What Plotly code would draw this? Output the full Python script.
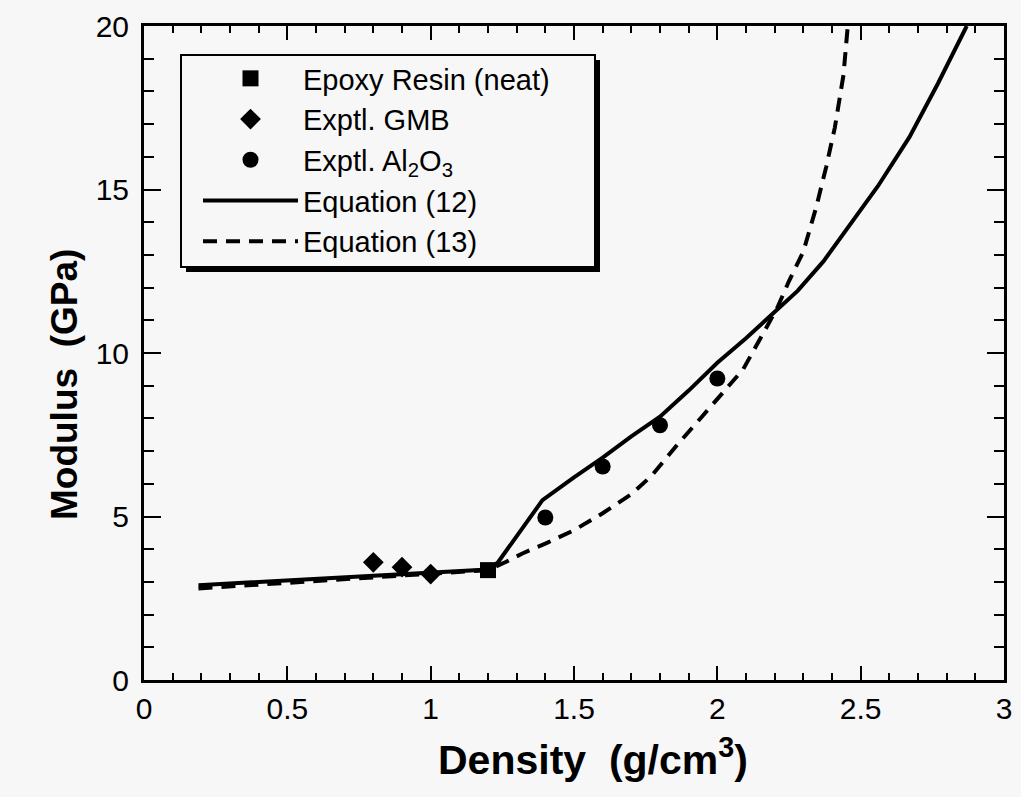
import plotly.graph_objects as go

# values
epoxy_x = [1.2]
epoxy_y = [3.36]

gmb_x = [0.8, 0.9, 1.0]
gmb_y = [3.6, 3.45, 3.24]

al2o3_x = [1.4, 1.6, 1.8, 2.0]
al2o3_y = [4.97, 6.53, 7.79, 9.22]

eq12_x = [0.19, 0.5, 0.8, 1.0, 1.2, 1.235, 1.3, 1.39, 1.5, 1.6, 1.7, 1.8,
          1.9, 2.0, 2.1, 2.2, 2.28, 2.37, 2.45, 2.56, 2.67, 2.77, 2.87]
eq12_y = [2.9, 3.05, 3.2, 3.28, 3.38, 3.6, 4.4, 5.5, 6.2, 6.8, 7.45, 8.05,
          8.85, 9.7, 10.45, 11.25, 11.9, 12.8, 13.75, 15.1, 16.6, 18.25, 20.0]

eq13_x = [0.19, 0.5, 0.8, 1.0, 1.2, 1.26, 1.32, 1.4, 1.5, 1.6, 1.7, 1.77,
          1.86, 1.95, 2.01, 2.09, 2.16, 2.21, 2.25, 2.3, 2.345, 2.38, 2.41,
          2.44, 2.455]
eq13_y = [2.8, 2.98, 3.15, 3.25, 3.36, 3.6, 3.87, 4.17, 4.58, 5.1, 5.68, 6.24,
          7.19, 8.09, 8.7, 9.5, 10.6, 11.4, 12.2, 13.1, 14.46, 15.7, 16.9,
          18.5, 20.0]

x_title = "<b>Density  (g/cm<sup>3</sup>)</b>"
y_title = "<b>Modulus  (GPa)</b>"

BG = "#f7f7f7"
FONT = "Liberation Sans, Arial, sans-serif"

# the page body adds an 8px margin, so the figure is made smaller and shifted
OFF = 8
W, H = 1021 - 2 * OFF, 797 - 2 * OFF
# plot area as seen on screen
L, R, T, B = 144 - OFF, 1004 - OFF, 26 - OFF, 680 - OFF


def px_x(p):
    return (p - OFF - L) / (R - L)


def px_y(p):
    return (B - (p - OFF)) / (B - T)


fig = go.Figure()

fig.add_trace(go.Scatter(x=eq12_x, y=eq12_y, mode="lines", name="Equation (12)",
                         line=dict(color="black", width=4), legendrank=4))
fig.add_trace(go.Scatter(x=eq13_x, y=eq13_y, mode="lines", name="Equation (13)",
                         line=dict(color="black", width=4, dash="14px,9px"),
                         legendrank=5))
fig.add_trace(go.Scatter(x=epoxy_x, y=epoxy_y, mode="markers",
                         name="Epoxy Resin (neat)",
                         marker=dict(symbol="square", size=16, color="black"),
                         legendrank=1))
fig.add_trace(go.Scatter(x=gmb_x, y=gmb_y, mode="markers", name="Exptl. GMB",
                         marker=dict(symbol="diamond", size=16, color="black"),
                         legendrank=2))
fig.add_trace(go.Scatter(x=al2o3_x, y=al2o3_y, mode="markers",
                         name="Exptl. Al<sub>2</sub>O<sub>3</sub>",
                         marker=dict(symbol="circle", size=16, color="black"),
                         legendrank=3))

axis_common = dict(
    showline=True, linecolor="black", linewidth=3, mirror="allticks",
    ticks="inside", tickcolor="black", tickwidth=2,
    showgrid=False, zeroline=False, automargin=False,
    tickfont=dict(family=FONT, size=30, color="black"),
)

fig.update_xaxes(
    range=[0, 3], tickvals=[0, 0.5, 1, 1.5, 2, 2.5, 3],
    ticktext=["0", "0.5", "1", "1.5", "2", "2.5", "3"],
    ticklen=14, ticklabelstandoff=0,
    minor=dict(dtick=0.1, ticks="inside", ticklen=7, tickcolor="black", tickwidth=2),
    **axis_common,
)
fig.update_yaxes(
    range=[0, 20], tickvals=[0, 5, 10, 15, 20],
    ticklen=17, ticklabelstandoff=6,
    minor=dict(dtick=1, ticks="inside", ticklen=10, tickcolor="black", tickwidth=2),
    **axis_common,
)

# axis titles placed where the reference has them
fig.add_annotation(text=x_title, xref="paper", yref="paper",
                   x=px_x(593), y=px_y(757), xanchor="center", yanchor="middle",
                   showarrow=False, font=dict(family=FONT, size=41, color="black"))
fig.add_annotation(text=y_title, xref="paper", yref="paper", textangle=-90,
                   x=px_x(64), y=px_y(385), xanchor="center", yanchor="middle",
                   showarrow=False, font=dict(family=FONT, size=37, color="black"))

# legend frame: drop shadow then box
fig.add_shape(type="rect", xref="paper", yref="paper",
              x0=px_x(186), x1=px_x(600), y0=px_y(272), y1=px_y(60),
              fillcolor="black", line=dict(width=0), layer="above")
fig.add_shape(type="rect", xref="paper", yref="paper",
              x0=px_x(181), x1=px_x(595), y0=px_y(267), y1=px_y(55),
              fillcolor=BG, line=dict(color="black", width=2), layer="above")

fig.update_layout(
    width=W, height=H,
    margin=dict(l=L, r=W - R, t=T, b=H - B),
    paper_bgcolor=BG, plot_bgcolor=BG,
    showlegend=True,
    legend=dict(
        x=px_x(198), y=px_y(53), xanchor="left", yanchor="top",
        bgcolor="rgba(0,0,0,0)", borderwidth=0,
        font=dict(family=FONT, size=29, color="black"),
        itemwidth=95, tracegroupgap=0, traceorder="normal",
    ),
)

# page background to match the figure around the body margin
fig.write_html("out.html", post_script="document.body.style.background='%s';" % BG)
